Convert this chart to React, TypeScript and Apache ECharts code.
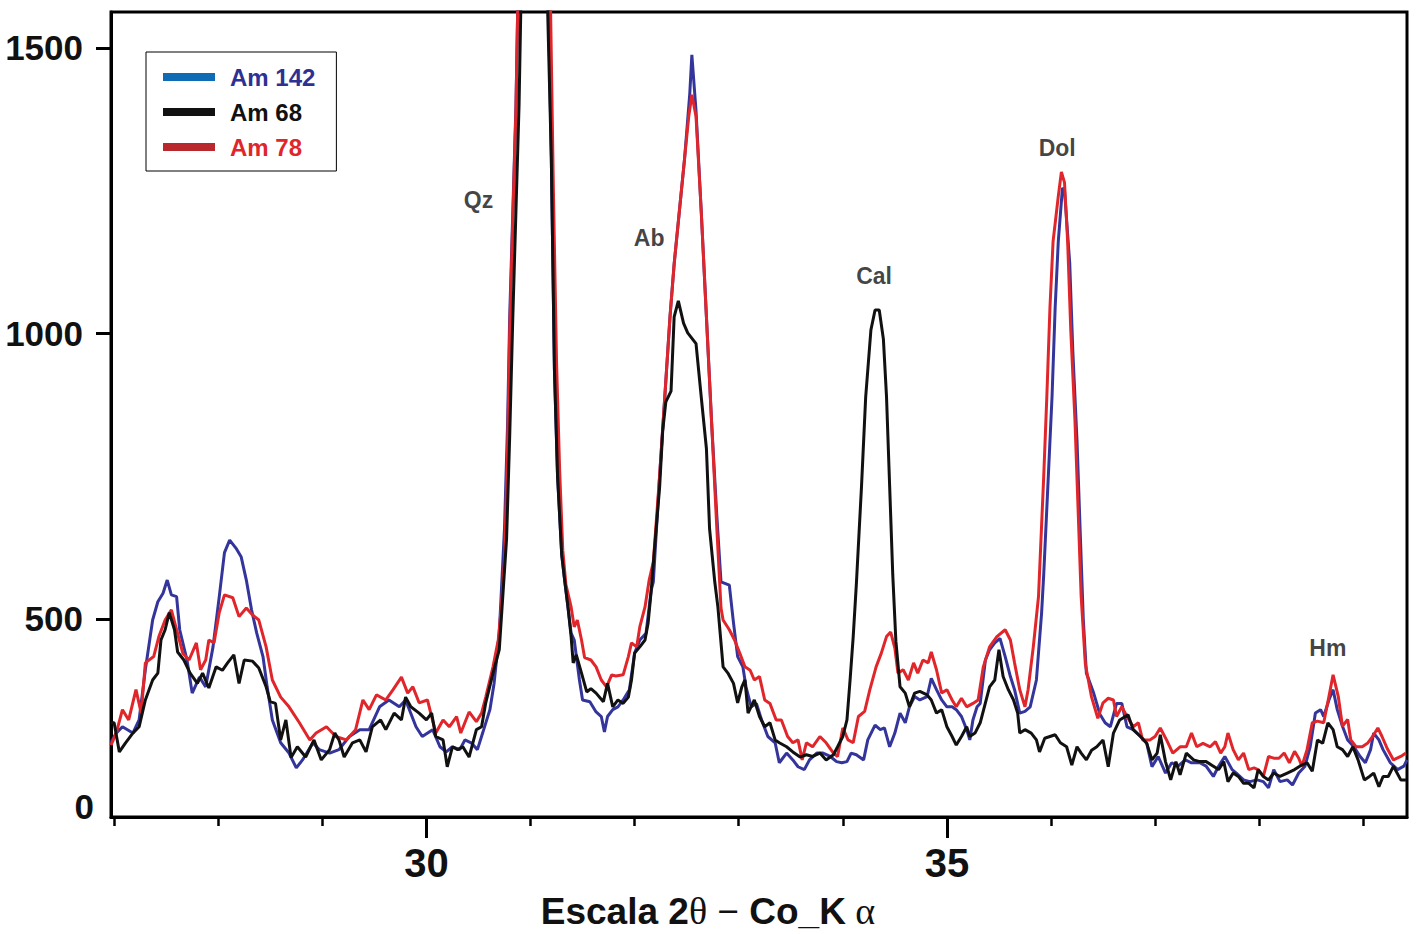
import React, { useEffect, useRef } from "react";
import * as echarts from "echarts";

// ---- Data (2θ, counts) ----
const am142X = [26.97,27.02,27.08,27.18,27.24,27.30,27.37,27.42,27.47,27.51,27.55,27.60,27.63,27.70,27.75,27.82,27.88,27.95,28.01,28.06,28.11,28.17,28.22,28.27,28.32,28.37,28.43,28.47,28.52,28.60,28.68,28.75,28.81,28.91,28.97,29.07,29.16,29.26,29.36,29.45,29.55,29.64,29.74,29.80,29.90,29.96,30.06,30.13,30.19,30.25,30.32,30.37,30.43,30.49,30.54,30.61,30.65,30.70,30.75,30.78,30.80,30.83,30.86,30.88,30.95,31.02,31.10,31.17,31.20,31.23,31.26,31.30,31.33,31.39,31.42,31.47,31.50,31.57,31.63,31.68,31.71,31.74,31.79,31.84,31.89,31.95,32.00,32.05,32.11,32.16,32.18,32.24,32.29,32.34,32.38,32.43,32.48,32.53,32.55,32.59,32.64,32.69,32.74,32.79,32.83,32.91,32.95,32.99,33.04,33.07,33.12,33.17,33.22,33.28,33.35,33.39,33.46,33.52,33.57,33.63,33.68,33.75,33.81,33.88,33.94,33.99,34.04,34.08,34.13,34.20,34.24,34.31,34.36,34.40,34.45,34.50,34.55,34.60,34.64,34.69,34.74,34.81,34.85,34.90,34.95,35.00,35.05,35.09,35.14,35.19,35.22,35.25,35.29,35.32,35.37,35.41,35.46,35.51,35.56,35.61,35.65,35.70,35.75,35.80,35.86,35.91,35.93,35.97,36.01,36.04,36.07,36.11,36.13,36.18,36.21,36.25,36.28,36.31,36.34,36.41,36.47,36.52,36.57,36.63,36.68,36.73,36.79,36.86,36.92,36.97,37.03,37.10,37.16,37.22,37.29,37.35,37.43,37.49,37.56,37.61,37.67,37.74,37.78,37.85,37.91,37.98,38.04,38.09,38.14,38.20,38.27,38.32,38.38,38.44,38.49,38.54,38.59,38.62,38.67,38.71,38.75,38.80,38.85,38.91,38.97,39.02,39.07,39.10,39.15,39.19,39.26,39.33,39.39,39.42];
const am142Y = [283,300,311,300,323,411,498,530,545,568,542,539,481,428,370,398,381,451,539,616,638,624,609,568,516,475,434,381,323,283,265,239,253,283,271,265,271,294,306,306,346,358,346,358,311,294,306,276,267,276,271,288,283,271,300,341,387,475,658,843,1029,1214,1398,1600,2600,3000,2600,1600,1306,936,750,612,565,475,463,393,358,355,337,329,302,329,341,346,358,376,440,463,475,551,565,750,889,1029,1122,1214,1306,1420,1488,1390,1214,1029,843,680,565,559,493,434,416,381,346,352,323,294,283,248,265,253,241,236,253,265,265,259,250,248,250,265,262,253,288,314,306,309,276,300,335,318,346,364,358,364,396,376,358,346,346,341,329,306,288,323,346,352,428,446,458,466,434,399,376,335,338,346,393,511,577,733,889,1045,1161,1255,1250,1123,968,812,656,500,405,370,333,318,311,352,352,311,306,294,282,241,259,230,248,242,253,248,248,242,224,242,259,236,230,218,215,218,215,204,236,215,218,209,230,242,276,335,341,329,358,376,341,312,288,276,259,248,271,300,288,271,248,236,242,253];

const am68X = [26.97,27.00,27.05,27.11,27.18,27.24,27.30,27.37,27.42,27.45,27.49,27.53,27.58,27.61,27.67,27.73,27.80,27.85,27.91,27.98,28.04,28.09,28.15,28.20,28.25,28.33,28.39,28.46,28.50,28.55,28.60,28.65,28.70,28.76,28.84,28.92,28.99,29.07,29.12,29.16,29.21,29.29,29.36,29.42,29.48,29.56,29.61,29.69,29.76,29.80,29.85,29.93,30.00,30.05,30.09,30.16,30.20,30.25,30.30,30.35,30.41,30.48,30.53,30.57,30.64,30.70,30.77,30.80,30.83,30.86,30.89,30.91,30.97,31.03,31.10,31.16,31.20,31.23,31.26,31.30,31.33,31.36,31.39,31.41,31.44,31.49,31.54,31.58,31.63,31.70,31.74,31.79,31.84,31.89,31.94,31.97,32.00,32.05,32.10,32.13,32.16,32.19,32.24,32.27,32.30,32.35,32.38,32.42,32.47,32.51,32.59,32.64,32.69,32.72,32.77,32.80,32.85,32.90,32.95,32.99,33.03,33.06,33.09,33.15,33.20,33.25,33.30,33.35,33.39,33.46,33.52,33.59,33.65,33.71,33.78,33.84,33.91,33.95,34.00,34.04,34.07,34.10,34.13,34.18,34.22,34.27,34.31,34.35,34.39,34.42,34.45,34.48,34.51,34.55,34.60,34.64,34.69,34.74,34.81,34.85,34.90,34.95,35.00,35.05,35.09,35.14,35.19,35.22,35.27,35.32,35.37,35.41,35.46,35.50,35.54,35.59,35.64,35.68,35.70,35.75,35.81,35.86,35.89,35.94,35.99,36.04,36.09,36.15,36.20,36.25,36.29,36.34,36.39,36.44,36.50,36.55,36.60,36.66,36.74,36.79,36.86,36.92,36.97,37.02,37.05,37.10,37.15,37.20,37.24,37.30,37.37,37.43,37.49,37.56,37.61,37.66,37.70,37.75,37.80,37.85,37.90,37.95,37.99,38.04,38.09,38.14,38.20,38.27,38.34,38.39,38.46,38.51,38.56,38.61,38.66,38.71,38.75,38.80,38.85,38.90,38.95,39.01,39.06,39.10,39.15,39.19,39.24,39.29,39.36,39.41];
const am68Y = [318,318,267,283,300,311,358,393,405,463,481,511,481,442,428,405,387,405,379,416,410,423,437,387,428,426,414,381,355,352,288,323,257,276,258,288,253,271,300,288,258,283,288,267,311,323,306,335,323,363,346,335,323,335,294,288,241,276,271,276,258,306,311,353,405,446,640,820,1029,1214,1400,1600,2600,3000,2600,1600,1306,936,750,612,565,521,469,423,437,405,372,378,370,355,387,346,358,352,363,393,440,451,463,493,551,620,730,830,880,899,1029,1057,1018,1001,982,889,798,658,565,521,416,404,387,353,381,393,335,358,329,311,318,288,283,276,267,258,262,259,265,253,262,276,294,323,393,469,560,733,889,1006,1041,1041,990,889,733,577,461,381,370,346,370,373,367,358,335,341,311,294,279,294,311,294,300,318,353,381,393,446,399,376,358,335,300,306,300,288,267,291,294,297,283,276,244,276,265,253,270,276,288,241,300,323,332,306,294,282,253,265,297,250,218,250,227,265,253,250,250,242,236,250,215,230,224,212,212,204,236,224,218,230,224,230,236,242,248,233,288,282,318,306,276,271,259,276,253,218,224,230,206,224,224,242,218,218];

const am78X = [26.97,27.02,27.08,27.14,27.21,27.26,27.30,27.38,27.43,27.49,27.55,27.60,27.66,27.72,27.79,27.83,27.88,27.91,27.96,28.01,28.06,28.14,28.20,28.27,28.33,28.39,28.46,28.52,28.60,28.68,28.78,28.88,28.94,29.04,29.13,29.23,29.32,29.39,29.45,29.52,29.61,29.68,29.76,29.82,29.87,29.93,30.01,30.09,30.16,30.22,30.29,30.33,30.41,30.48,30.53,30.57,30.64,30.69,30.72,30.75,30.78,30.80,30.83,30.86,30.88,30.95,31.02,31.12,31.19,31.22,31.25,31.28,31.31,31.34,31.39,31.42,31.45,31.49,31.52,31.58,31.63,31.68,31.73,31.78,31.82,31.89,31.94,31.97,32.02,32.05,32.10,32.14,32.18,32.24,32.29,32.34,32.38,32.43,32.48,32.52,32.55,32.59,32.64,32.69,32.74,32.79,32.83,32.85,32.91,32.96,33.01,33.06,33.11,33.15,33.20,33.25,33.30,33.36,33.41,33.47,33.52,33.57,33.61,33.65,33.71,33.78,33.84,33.91,33.95,34.00,34.05,34.10,34.15,34.21,34.26,34.32,34.37,34.42,34.46,34.50,34.53,34.58,34.63,34.68,34.72,34.77,34.82,34.85,34.90,34.95,35.00,35.05,35.09,35.14,35.19,35.25,35.30,35.35,35.41,35.48,35.56,35.61,35.65,35.70,35.75,35.78,35.83,35.88,35.93,35.96,35.99,36.02,36.07,36.10,36.13,36.16,36.19,36.23,36.26,36.29,36.33,36.39,36.45,36.50,36.55,36.60,36.63,36.68,36.73,36.79,36.84,36.88,36.95,37.00,37.05,37.11,37.17,37.24,37.30,37.35,37.40,37.46,37.53,37.58,37.63,37.67,37.70,37.75,37.80,37.85,37.90,37.95,37.99,38.04,38.09,38.14,38.19,38.24,38.29,38.34,38.38,38.41,38.46,38.51,38.56,38.62,38.67,38.71,38.76,38.80,38.85,38.88,38.93,38.99,39.04,39.09,39.14,39.18,39.23,39.29,39.36,39.41];
const am78Y = [279,300,341,323,376,335,423,434,469,498,516,481,440,428,458,411,428,463,458,511,542,537,504,519,507,498,451,393,363,346,318,288,300,311,294,288,306,358,341,367,358,376,398,370,381,353,358,300,323,311,329,300,337,320,335,363,416,463,521,603,800,1000,1200,1390,1600,2600,3000,2600,1600,1250,950,760,620,560,521,486,498,463,432,428,416,393,381,402,400,402,434,458,451,486,521,568,600,750,889,1029,1122,1214,1306,1380,1418,1380,1214,1029,843,658,519,498,481,463,440,416,410,393,399,358,352,323,323,294,283,288,253,283,276,294,283,265,259,309,288,283,329,338,376,416,440,469,477,449,405,411,393,423,405,428,423,442,411,370,376,358,346,361,346,352,358,416,451,469,481,463,423,376,346,376,451,539,749,889,1045,1161,1240,1283,1264,1161,1006,849,694,539,421,363,326,353,361,358,329,346,329,311,318,288,288,294,309,288,265,276,276,300,276,282,276,285,265,276,300,271,253,265,236,239,236,224,259,256,256,265,248,268,256,242,271,318,321,318,364,402,364,312,324,288,276,276,282,294,309,294,273,253,259,265];

const seriesNames = ["Am 142", "Am 68", "Am 78"];
const peakNames = ["Qz", "Ab", "Cal", "Dol", "Hm"];
const peakX = [30.5, 32.14, 34.3, 36.06, 38.66];
const peakY = [1234, 1167, 1101, 1325, 449];
const xLabelValues = [30, 35];
const xMinorTickValues = [27, 28, 29, 30, 31, 32, 33, 34, 35, 36, 37, 38, 39];
const yLabelValues = [500, 1000, 1500];
const yZeroLabelAt = [172];

const X_MIN = 26.97;
const X_MAX = 39.42;
const Y_MIN = 153;
const Y_MAX = 1563;

const zip = (xs: number[], ys: number[]) => xs.map((x, i) => [x, ys[i]]);

const SANS = '"Liberation Sans", Arial, Helvetica, sans-serif';
const SERIF = '"Liberation Serif", "DejaVu Serif", serif';

export default function App() {
  const ref = useRef<HTMLDivElement>(null);

  useEffect(() => {
    if (!ref.current) return;
    const chart = echarts.init(ref.current, undefined, { renderer: "svg" });

    const option: any = {
      animation: false,
      backgroundColor: "#ffffff",
      grid: {
        left: 111,
        right: 10,
        top: 12,
        bottom: 117,
        show: true,
        borderColor: "#000",
        borderWidth: 3,
        backgroundColor: "transparent",
        containLabel: false,
        outerBoundsMode: "none",
      },
      legend: {
        orient: "vertical",
        left: 146,
        top: 52,
        padding: [12, 21, 11, 17],
        itemWidth: 52,
        itemHeight: 8,
        itemGap: 9,
        icon: "rect",
        borderColor: "#000",
        borderWidth: 1,
        backgroundColor: "#fff",
        selectedMode: false,
        textStyle: {
          fontSize: 24,
          fontWeight: "bold",
          fontFamily: SANS,
          lineHeight: 26,
          padding: [0, 0, 0, 10],
        },
        data: [
          { name: seriesNames[0], itemStyle: { color: "#0f6cb4" }, textStyle: { color: "#2e3192" } },
          { name: seriesNames[1], itemStyle: { color: "#111111" }, textStyle: { color: "#111111" } },
          { name: seriesNames[2], itemStyle: { color: "#b8282c" }, textStyle: { color: "#e0262b" } },
        ],
      },
      xAxis: [
        {
          type: "value",
          min: X_MIN,
          max: X_MAX,
          position: "bottom",
          axisLine: { show: true, onZero: false, lineStyle: { color: "#000", width: 3 } },
          axisTick: {
            show: true,
            inside: false,
            length: 21,
            customValues: xLabelValues,
            lineStyle: { color: "#000", width: 3 },
          },
          axisLabel: {
            customValues: xLabelValues,
            formatter: (v: number) => String(v),
            margin: 26,
            fontSize: 40,
            fontWeight: "bold",
            fontFamily: SANS,
            color: "#111",
          },
          splitLine: { show: false },
          name: "{a|Escala 2}{t|θ}{a| }{m|−}{a| }{b|Co_K}{t| α}",
          nameLocation: "middle",
          nameGap: 75,
          nameTextStyle: {
            padding: [0, 102, 0, 0],
            rich: {
              a: { fontSize: 37, fontWeight: "bold", fontFamily: SANS, color: "#111" },
              m: { fontSize: 37, fontWeight: "normal", fontFamily: SANS, color: "#111" },
              b: { fontSize: 37, fontWeight: 900, fontFamily: SANS, color: "#111" },
              t: { fontSize: 38, fontWeight: "normal", fontFamily: SERIF, color: "#111" },
            },
          },
        },
        {
          type: "value",
          min: X_MIN,
          max: X_MAX,
          position: "bottom",
          axisLine: { show: false, onZero: false },
          axisTick: {
            show: true,
            inside: false,
            length: 9,
            customValues: xMinorTickValues,
            lineStyle: { color: "#000", width: 2.5 },
          },
          axisLabel: { show: false },
          splitLine: { show: false },
        },
      ],
      yAxis: [
        {
          type: "value",
          min: Y_MIN,
          max: Y_MAX,
          position: "left",
          axisLine: { show: true, onZero: false, lineStyle: { color: "#000", width: 3 } },
          axisTick: {
            show: true,
            inside: false,
            length: 15,
            customValues: yLabelValues,
            lineStyle: { color: "#000", width: 3 },
          },
          axisLabel: {
            customValues: yLabelValues,
            formatter: (v: number) => String(v),
            margin: 28,
            fontSize: 35,
            fontWeight: "bold",
            fontFamily: SANS,
            color: "#111",
          },
          splitLine: { show: false },
        },
        {
          type: "value",
          min: Y_MIN,
          max: Y_MAX,
          position: "left",
          axisLine: { show: false, onZero: false },
          axisTick: { show: false },
          axisLabel: {
            customValues: yZeroLabelAt,
            formatter: () => "0",
            margin: 17,
            fontSize: 35,
            fontWeight: "bold",
            fontFamily: SANS,
            color: "#111",
          },
          splitLine: { show: false },
        },
      ],
      series: [
        {
          name: seriesNames[0],
          type: "line",
          data: zip(am142X, am142Y),
          showSymbol: false,
          symbol: "none",
          color: "#34359b",
          lineStyle: { color: "#34359b", width: 3 },
          z: 2,
        },
        {
          name: seriesNames[2],
          type: "line",
          data: zip(am78X, am78Y),
          showSymbol: false,
          symbol: "none",
          color: "#e0262b",
          lineStyle: { color: "#e0262b", width: 3 },
          z: 3,
        },
        {
          name: seriesNames[1],
          type: "line",
          data: zip(am68X, am68Y),
          showSymbol: false,
          symbol: "none",
          color: "#111111",
          lineStyle: { color: "#111111", width: 3 },
          z: 4,
        },
        {
          name: "peaks",
          type: "scatter",
          data: peakNames.map((n, i) => ({ name: n, value: [peakX[i], peakY[i]] })),
          symbolSize: 1,
          itemStyle: { color: "rgba(0,0,0,0)" },
          silent: true,
          label: {
            show: true,
            position: "inside",
            formatter: "{b}",
            fontSize: 23,
            fontWeight: "bold",
            fontFamily: SANS,
            color: "#111",
          },
          z: 5,
        },
      ],
    };

    chart.setOption(option);
    return () => chart.dispose();
  }, []);

  return (
    <div
      ref={ref}
      style={{ position: "absolute", left: 0, top: 0, width: 1417, height: 934, background: "#fff" }}
    />
  );
}
